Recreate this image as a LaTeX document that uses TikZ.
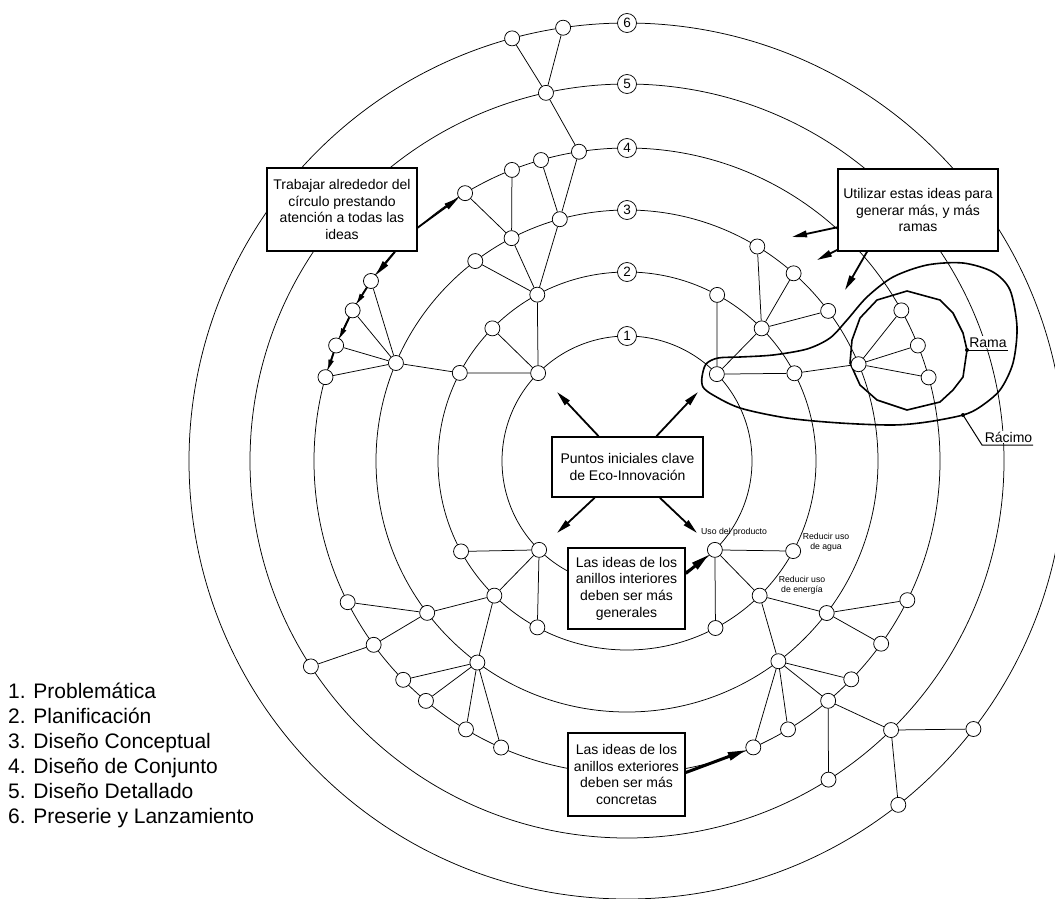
\documentclass[tikz,border=0pt]{standalone}
\usepackage{fontspec}
\setmainfont{Liberation Sans}
\usetikzlibrary{calc,arrows.meta}
\pgfdeclarelayer{bg}
\pgfsetlayers{bg,main}
\newcommand{\ringnd}[4]{\node[nd] (#1) at ($(O)!#2!(#3,#4)$) {};}
\begin{document}
\begin{tikzpicture}[x=1pt,y=-1pt,
  ringline/.style={line width=0.75pt},
  nd/.style={circle,draw,fill=white,minimum size=15pt,inner sep=0pt,line width=0.75pt},
  lbl/.style={circle,draw,fill=white,minimum size=19pt,inner sep=0pt,line width=0.75pt,font=\fontsize{13.5}{13.5}\selectfont},
  edge/.style={line width=0.75pt},
  tbox/.style={draw,fill=white,line width=1.6pt,align=center,inner sep=0pt,font=\fontsize{14}{16.7}\selectfont},
  arr/.style={line width=1.8pt,-{Triangle[length=15pt,width=6.5pt]}},
  sarr/.style={line width=1.8pt,-{Triangle[length=10pt,width=5pt]}},
  warr/.style={line width=3pt,-{Triangle[length=18pt,width=8pt]}},
  blob/.style={line width=1.6pt},
  lead/.style={line width=1pt},
  small/.style={font=\fontsize{8.7}{10}\selectfont,inner sep=0pt,align=center},
  legend/.style={font=\fontsize{21}{25}\selectfont,inner sep=0pt,anchor=base west},
  tag/.style={font=\fontsize{14}{14}\selectfont,inner sep=1pt,anchor=base,fill=white}
]
\useasboundingbox (0,0) rectangle (1055,898);
\coordinate (O) at (627,461);

% ---------- nodes ----------
\ringnd{A6a}{438pt}{512}{38}
\ringnd{A6b}{438pt}{563}{27}
\ringnd{A5}{377pt}{546}{93}
\ringnd{A4a}{313pt}{579}{152}
\ringnd{A4b}{313pt}{541}{160}
\ringnd{A4c}{313pt}{512}{170}
\ringnd{A4d}{313pt}{465}{193}
\ringnd{A3a}{251pt}{560}{220}
\ringnd{A3b}{251pt}{512}{239}
\ringnd{A3c}{251pt}{476}{262}
\ringnd{A2}{189pt}{538}{296}
\ringnd{B2a}{189pt}{493}{329}
\ringnd{B2b}{189pt}{460}{373}
\ringnd{B1}{125pt}{538}{373}
\ringnd{B3}{251pt}{396}{363}
\ringnd{B4a}{313pt}{371}{281}
\ringnd{B4b}{313pt}{352}{310}
\ringnd{B4c}{313pt}{335}{345}
\ringnd{B4d}{313pt}{325}{377}
\ringnd{C1}{125pt}{537}{552}
\ringnd{C2a}{189pt}{460}{552}
\ringnd{C2b}{189pt}{493}{597}
\ringnd{C2c}{189pt}{537}{628}
\ringnd{C3a}{251pt}{427}{613}
\ringnd{C3b}{251pt}{477}{663}
\ringnd{C4a}{313pt}{346}{603}
\ringnd{C4b}{313pt}{372}{646}
\ringnd{C4c}{313pt}{402}{681}
\ringnd{C4d}{313pt}{425}{702}
\ringnd{C4e}{313pt}{465}{731}
\ringnd{C4f}{313pt}{500}{750}
\ringnd{C5}{377pt}{310}{667}
\ringnd{D1}{125pt}{716}{551}
\ringnd{D2a}{189pt}{793}{551}
\ringnd{D2b}{189pt}{760}{596}
\ringnd{D2c}{189pt}{716}{629}
\ringnd{D3a}{251pt}{828}{614}
\ringnd{D3b}{251pt}{779}{662}
\ringnd{D4a}{313pt}{909}{601}
\ringnd{D4b}{313pt}{883}{645}
\ringnd{D4c}{313pt}{853}{681}
\ringnd{D4d}{313pt}{830}{703}
\ringnd{D4e}{313pt}{789}{731}
\ringnd{D4f}{313pt}{754}{749}
\ringnd{D5a}{377pt}{892}{731}
\ringnd{D5b}{377pt}{830}{782}
\ringnd{D6a}{438pt}{976}{731}
\ringnd{D6b}{438pt}{900}{807}
\ringnd{E1}{125pt}{717}{374}
\ringnd{E2a}{189pt}{716}{297}
\ringnd{E2b}{189pt}{761}{329}
\ringnd{E2c}{189pt}{793}{374}
\ringnd{E3a}{251pt}{757}{247}
\ringnd{E3b}{251pt}{793}{274}
\ringnd{E3c}{251pt}{828}{311}
\ringnd{E3d}{251pt}{859}{364}
\ringnd{E4a}{313pt}{902}{310}
\ringnd{E4b}{313pt}{919}{345}
\ringnd{E4c}{313pt}{930}{377}

% ring number labels
\node[lbl] (R1) at ($(O)+(0,-125)$) {1};
\node[lbl] (R2) at ($(O)+(0,-189)$) {2};
\node[lbl] (R3) at ($(O)+(0,-251)$) {3};
\node[lbl] (R4) at ($(O)+(0,-313)$) {4};
\node[lbl] (R5) at ($(O)+(0,-377)$) {5};
\node[lbl] (R6) at ($(O)+(0,-438)$) {6};

% ---------- background: rings, connectors, cluster outlines ----------
\begin{pgfonlayer}{bg}
  \begin{scope}
    \clip (0,0) rectangle (1055,898);
    \foreach \r in {125pt,189pt,251pt,313pt,377pt,438pt}
      \draw[ringline] (O) circle[radius=\r];
  \end{scope}
  \foreach \a/\b in {A6a/A5, A6b/A5, A5/A4a, A4a/A3a, A4b/A3a, A4c/A3b, A4d/A3b,
      A3a/A2, A3b/A2, A3c/A2, A2/B1, B2a/B1, B2b/B1, B2b/B3, B3/B4a, B3/B4b,
      B3/B4c, B3/B4d, C2a/C1, C1/C2b, C1/C2c, C2b/C3a, C2b/C3b, C3a/C4a,
      C3a/C4b, C4b/C5, C3b/C4c, C3b/C4d, C3b/C4e, C3b/C4f, E1/E2a, E1/E2b,
      E1/E2c, E2b/E3a, E2b/E3b, E2b/E3c, E2c/E3d, E3d/E4a, E3d/E4b, E3d/E4c,
      D1/D2a, D1/D2b, D1/D2c, D2b/D3a, D2b/D3b, D3a/D4a, D3a/D4b, D3b/D4c,
      D3b/D4d, D3b/D4e, D3b/D4f, D4d/D5a, D4d/D5b, D5a/D6a, D5a/D6b}
    \draw[edge] (\a) -- (\b);
  % Racimo outline
  \draw[blob] plot[smooth cycle] coordinates {(702,377) (706,364) (718,358)
     (740,357) (773,355) (807,349) (830,338) (847,320) (867,297) (893,277)
     (927,265) (963,263) (993,272) (1010,290) (1017,327) (1013,363) (1000,390)
     (980,407) (963,415) (927,422) (893,425) (840,423) (787,418) (740,408)
     (713,395) (703,387)};
  % Rama outline
  \draw[blob] (907,291) -- (940,300) -- (953,313) -- (963,333) -- (967,350)
     -- (963,377) -- (953,390) -- (940,402) -- (907,410) -- (877,400)
     -- (860,385) -- (850,363) -- (852,340) -- (860,318) -- (877,300) -- cycle;
\end{pgfonlayer}

% ---------- boxes ----------
\node[tbox,minimum width=150pt,minimum height=83pt] (TB) at (342,209.5)
  {Trabajar alrededor del\\círculo prestando\\atención a todas las\\ideas};
\node[tbox,minimum width=160pt,minimum height=82pt] (UB) at (918,210)
  {Utilizar estas ideas para\\generar más, y más\\ramas};
\node[tbox,minimum width=151pt,minimum height=60pt] (PB) at (627.5,467)
  {Puntos iniciales clave\\de Eco-Innovación};
\node[tbox,minimum width=117pt,minimum height=81pt] (IB) at (626.5,588.5)
  {Las ideas de los\\anillos interiores\\deben ser más\\generales};
\node[tbox,minimum width=117pt,minimum height=83pt] (EB) at (626.5,774.5)
  {Las ideas de los\\anillos exteriores\\deben ser más\\concretas};

% ---------- arrows ----------
\coordinate (p1) at (557,392);
\coordinate (p2) at (698,392);
\coordinate (p3) at (557,533);
\coordinate (p4) at (697,533);
\draw[arr] (PB) -- (p1);
\draw[arr] (PB) -- (p2);
\draw[arr] (PB) -- (p3);
\draw[arr] (PB) -- (p4);

\coordinate (u1) at (792,237);
\coordinate (u2) at (817,260);
\coordinate (u3) at (845,290);
\draw[arr] (UB) -- (u1);
\draw[arr] (UB) -- (u2);
\draw[arr] ($(UB.south)+(-51,0)$) -- (u3);

\draw[arr] ($(TB.east)+(0,18)$) -- (A4d);
\draw[arr] ($(TB.south)+(53,0)$) -- (B4a);
\draw[sarr] (B4a) -- (B4b);
\draw[sarr] (B4b) -- (B4c);
\draw[sarr] (B4c) -- (B4d);

\draw[warr] ($(IB.east)+(0,-15)$) -- (D1);
\draw[warr] ($(EB.east)+(0,-2)$) -- (D4f);

% ---------- small labels ----------
\node[small,anchor=west] (t1) at (701,532) {Uso del producto};
\node[small] (t2) at (826,542) {Reducir uso\\de agua};
\node[small] (t3) at (802,585) {Reducir uso\\de energía};

% ---------- Rama / Racimo tags ----------
\node[tag] (rama) at (988,347) {Rama};
\coordinate (ramadot) at (967,350);
\coordinate (ramaend) at (1008,350);
\fill (ramadot) circle[radius=2pt];
\draw[lead] (ramadot) -- (ramaend);

\node[tag] (racimo) at (1008.5,442) {Rácimo};
\coordinate (racdot) at (963,415);
\coordinate (racbend) at (982,445);
\coordinate (racend) at (1033,445);
\fill (racdot) circle[radius=2pt];
\draw[lead] (racdot) -- (racbend) -- (racend);

% ---------- legend ----------
\node[legend] (L1) at (8,698) {1. Problemática};
\node[legend] (L2) at (8,723) {2. Planificación};
\node[legend] (L3) at (8,748) {3. Diseño Conceptual};
\node[legend] (L4) at (8,773) {4. Diseño de Conjunto};
\node[legend] (L5) at (8,798) {5. Diseño Detallado};
\node[legend] (L6) at (8,823) {6. Preserie y Lanzamiento};
\end{tikzpicture}
\end{document}
